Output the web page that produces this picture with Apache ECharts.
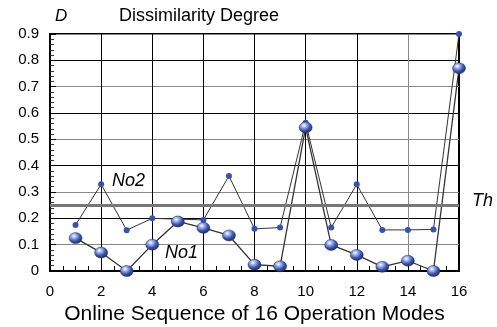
<!DOCTYPE html>
<html><head><meta charset="utf-8">
<script src="https://cdn.jsdelivr.net/npm/echarts@6/dist/echarts.min.js"></script>
<style>html,body{margin:0;padding:0;background:#fff}#c{width:497px;height:327px}</style>
</head><body><div id="c"></div>
<script>
const modes = [1,2,3,4,5,6,7,8,9,10,11,12,13,14,15,16];
const no1 = [0.125,0.07,0.0,0.10,0.188,0.164,0.135,0.024,0.018,0.545,0.099,0.061,0.016,0.039,0.0,0.77];
const no2 = [0.175,0.329,0.155,0.20,0.197,0.194,0.361,0.16,0.165,0.563,0.165,0.329,0.156,0.156,0.158,0.9];
const threshold = 0.25;
const xTicks = [0,2,4,6,8,10,12,14,16];
const yTicks = [0,0.1,0.2,0.3,0.4,0.5,0.6,0.7,0.8,0.9];

const font = 'Liberation Sans, Arial, sans-serif';
const sphere = {type:'radial',x:0.38,y:0.32,r:0.75,colorStops:[
  {offset:0,color:'#ffffff'},{offset:0.25,color:'#9fb3e6'},{offset:0.6,color:'#3a52a8'},{offset:1,color:'#152366'}]};
const chart = echarts.init(document.getElementById('c'), null, {renderer:'canvas'});
chart.setOption({
  animation:false,
  grid:{left:50,right:38,top:34,bottom:56,show:true,borderColor:'#000',borderWidth:2,backgroundColor:'transparent',
    containLabel:false,outerBoundsMode:'none'},
  xAxis:{type:'value',min:xTicks[0],max:xTicks[xTicks.length-1],interval:2,
    axisLine:{show:true,lineStyle:{color:'#000',width:2}},
    axisTick:{show:true,inside:true,length:5,lineStyle:{color:'#000'}},
    minorTick:{show:true,splitNumber:4,length:5,lineStyle:{color:'#000'}},
    splitLine:{show:true,lineStyle:{color:['#000','#000','#000','#000','#000','#000','#000','#888','#000'],width:1}},
    axisLabel:{color:'#000',fontSize:15,fontFamily:font,margin:13},
    name:'Online Sequence of 16 Operation Modes',nameLocation:'middle',nameGap:29,
    nameTextStyle:{color:'#000',fontSize:21,fontFamily:font}},
  yAxis:{type:'value',min:yTicks[0],max:yTicks[yTicks.length-1],interval:0.1,
    axisLine:{show:true,lineStyle:{color:'#000',width:2}},
    axisTick:{show:true,inside:true,length:6,lineStyle:{color:'#000'}},
    minorTick:{show:true,splitNumber:5,length:4,lineStyle:{color:'#333'}},
    splitLine:{show:true,lineStyle:{color:['#000','#888'],width:1}},
    axisLabel:{color:'#000',fontSize:15,fontFamily:font,margin:11}},
  graphic:[
    {type:'text',left:55,top:8,style:{text:'D',font:'italic 17px '+font,fill:'#000'}},
    {type:'text',left:119,top:7,style:{text:'Dissimilarity Degree',font:'18px '+font,fill:'#000'}},
    {type:'text',left:112,top:172,style:{text:'No2',font:'italic 18px '+font,fill:'#000'}},
    {type:'text',left:165,top:244,style:{text:'No1',font:'italic 18px '+font,fill:'#000'}},
    {type:'text',left:472,top:192,style:{text:'Th',font:'italic 18px '+font,fill:'#000'}}
  ],
  series:[
    {type:'line',data:modes.map((m,i)=>[m,no2[i]]),symbol:'circle',symbolSize:6,
      lineStyle:{color:'#333',width:1},itemStyle:{color:'#3553ad'},z:3,
      markLine:{silent:true,symbol:'none',label:{show:false},lineStyle:{color:'#777',width:3,type:'solid'},
        data:[{yAxis:threshold}]}},
    {type:'line',data:modes.map((m,i)=>[m,no1[i]]),symbol:'circle',symbolSize:[13,11],
      lineStyle:{color:'#333',width:1.3},itemStyle:{color:sphere,borderColor:'#1a2a70',borderWidth:0.5},z:4}
  ]
});
</script></body></html>
